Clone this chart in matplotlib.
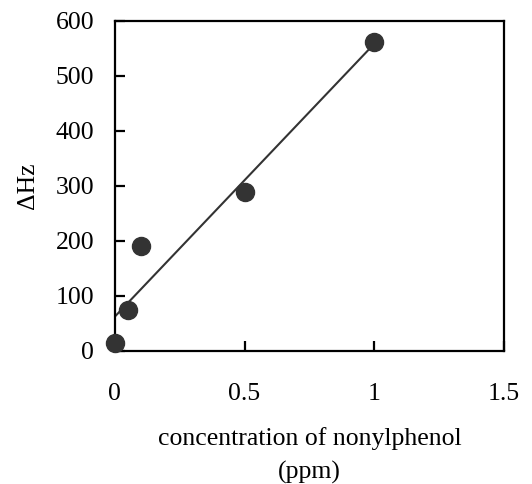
import numpy as np
import matplotlib
matplotlib.use("Agg")
from matplotlib import pyplot as plt

# data
conc = [0, 0.05, 0.1, 0.5, 1.0]
delta_hz = [15, 75, 190, 288, 562]

plt.rcParams['font.family'] = ['Liberation Serif', 'DejaVu Serif']

fig = plt.figure(figsize=(5.32, 4.84), dpi=100)
ax = fig.add_axes([0.216, 0.275, 0.731, 0.682])

# linear fit drawn over the data range
k, b = np.polyfit(conc, delta_hz, 1)
xfit = np.array([min(conc), max(conc)])
ax.plot(xfit, k * xfit + b, color='#333333', lw=1.5, zorder=2)
ax.plot(conc, delta_hz, 'o', color='#333333', ms=13, zorder=3, clip_on=False)

ax.set_xlim(0, 1.5)
ax.set_ylim(0, 600)
ax.set_xticks([0, 0.5, 1, 1.5])
ax.set_xticklabels(['0', '0.5', '1', '1.5'])
ax.set_yticks(range(0, 601, 100))

for s in ax.spines.values():
    s.set_linewidth(1.6)
ax.tick_params(axis='both', direction='in', length=7, width=1.6, labelsize=18.5)
ax.tick_params(axis='x', pad=23)
ax.tick_params(axis='y', pad=15)

ax.set_xlabel('concentration of nonylphenol\n(ppm)', fontsize=18.5, labelpad=16, linespacing=1.6)
ax.set_ylabel('ΔHz', fontsize=18.5, labelpad=12)

fig.savefig('out.png', dpi=100)
